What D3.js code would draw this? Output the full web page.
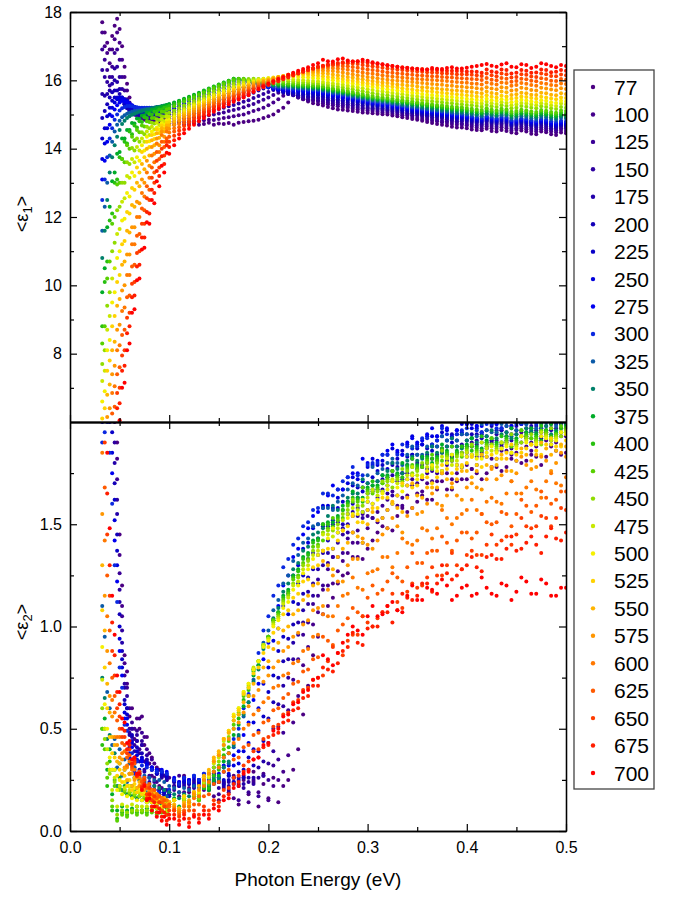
<!DOCTYPE html>
<html><head><meta charset="utf-8">
<script src="https://cdn.jsdelivr.net/npm/d3@7"></script>
<style>body{margin:0;background:#fff}svg text{font-family:"Liberation Sans",Arial,sans-serif}</style>
</head><body><svg id="chart" width="685" height="897"></svg>
<script>
const temperatures = [77,100,125,150,175,200,225,250,275,300,325,350,375,400,425,450,475,500,525,550,575,600,625,650,675,700];
const seriesColors = ['#4b0082','#45008c','#3a0096','#2e00a0','#2200aa','#1400b8','#0800c8','#0000dc','#0000f0','#0a28e0','#0a5aa8','#00806a','#00ac28','#28c010','#58d000','#90dc00','#c8e800','#f5f000','#ffd200','#ffb400','#ff9600','#ff7800','#ff5a00','#ff3c00','#ff1e00','#ff0000'];
const energy = [0.0325,0.035,0.0375,0.04,0.0425,0.045,0.0475,0.05,0.0525,0.055,0.0575,0.06,0.0625,0.065,0.0675,0.07,0.0725,0.075,0.0775,0.08,0.0825,0.085,0.0875,0.09,0.0925,0.095,0.0975,0.1,
0.105,0.11,0.115,0.12,0.125,0.13,0.135,0.14,0.145,0.15,0.155,0.16,0.165,0.17,0.175,0.18,0.185,0.19,0.195,0.2,0.205,0.21,0.215,0.22,0.225,0.23,0.235,0.24,0.245,0.25,
0.255,0.26,0.265,0.27,0.275,0.28,0.285,0.29,0.295,0.3,0.305,0.31,0.315,0.32,0.325,0.33,0.335,0.34,0.345,0.35,0.355,0.36,0.365,0.37,0.375,
0.38,0.385,0.39,0.395,0.4,0.405,0.41,0.415,0.42,0.425,0.43,0.435,0.44,0.445,0.45,0.455,0.46,0.465,0.47,0.475,0.48,0.485,0.49,0.495,0.5];
const xTicks = [0,0.1,0.2,0.3,0.4,0.5];
const xMinorTicks = [0.05,0.15,0.25,0.35,0.45];
const eps1Ticks = [8,10,12,14,16,18];
const eps1MinorTicks = [7,9,11,13,15,17];
const eps2Ticks = [0,0.5,1.0,1.5];
const eps2MinorTicks = [0.25,0.75,1.25,1.75];

// <eps1> readings per temperature
const e1_77 = [17.7,17.4,17.1,16.9,17.3,17.6,17.8,17.5,17.0,16.4,15.9,15.5,15.25,15.1,15.0,14.95,14.9,14.85,14.82,14.8,14.78,14.76,14.8,14.77,14.74,14.72,14.76,14.74,
14.7,14.75,14.7,14.72,14.75,14.7,14.72,14.76,14.7,14.74,14.72,14.75,14.7,14.76,14.78,14.8,14.82,14.85,14.9,14.95,15.0,15.1,15.2,15.35,15.6,15.55,15.45,15.38,15.33,15.3,
15.26,15.22,15.18,15.15,15.14,15.12,15.1,15.08,15.06,15.05,15.04,15.02,15.01,15.0,14.97,14.95,14.92,14.9,14.87,14.85,14.82,14.78,14.75,14.72,14.7,
14.68,14.64,14.62,14.62,14.6,14.56,14.55,14.54,14.58,14.52,14.5,14.55,14.52,14.47,14.45,14.53,14.5,14.44,14.42,14.5,14.48,14.42,14.4,14.47,14.45];
const e1_100 = [17.4,17.0,16.8,16.5,16.9,17.2,17.4,17.1,16.6,16.1,15.7,15.35,15.15,15.05,15.0,14.95,14.92,14.9,14.87,14.85,14.83,14.82,14.84,14.8,14.79,14.8,14.81,14.8,
14.78,14.8,14.77,14.8,14.82,14.8,14.83,14.85,14.84,14.87,14.9,14.92,14.95,14.98,15.0,15.05,15.1,15.15,15.2,15.27,15.35,15.45,15.55,15.68,15.6,15.5,15.45,15.42,15.4,15.37,
15.33,15.3,15.27,15.24,15.22,15.2,15.17,15.15,15.13,15.12,15.1,15.08,15.06,15.05,15.02,15.0,14.98,14.96,14.93,14.9,14.87,14.85,14.82,14.8,14.77,
14.75,14.72,14.7,14.7,14.68,14.64,14.62,14.6,14.65,14.6,14.58,14.63,14.6,14.53,14.55,14.6,14.57,14.52,14.5,14.57,14.54,14.5,14.48,14.55,14.52];
const e1_125 = [16.9,16.6,16.3,16.1,16.4,16.8,16.9,16.6,16.1,15.7,15.45,15.2,15.08,15.0,14.97,14.95,14.93,14.92,14.9,14.9,14.88,14.9,14.87,14.88,14.86,14.88,14.87,14.88,
14.87,14.9,14.88,14.9,14.92,14.93,14.95,14.98,15.0,15.03,15.06,15.1,15.13,15.17,15.21,15.26,15.31,15.37,15.43,15.5,15.57,15.64,15.72,15.64,15.56,15.5,15.47,15.45,15.43,15.42,
15.38,15.35,15.32,15.3,15.27,15.25,15.22,15.2,15.18,15.17,15.15,15.13,15.11,15.1,15.07,15.05,15.02,15.0,14.98,14.96,14.93,14.9,14.87,14.85,14.82,
14.8,14.78,14.76,14.74,14.72,14.7,14.68,14.66,14.7,14.66,14.64,14.69,14.66,14.58,14.6,14.65,14.62,14.58,14.56,14.62,14.6,14.56,14.54,14.6,14.58];
const e1_150 = [16.3,16.1,15.95,15.85,16.1,16.35,16.4,16.1,15.75,15.45,15.25,15.1,15.04,15.0,14.98,14.97,14.96,14.95,14.95,14.94,14.93,14.95,14.93,14.94,14.92,14.95,14.94,14.95,
14.95,14.97,14.98,15.0,15.02,15.04,15.07,15.1,15.13,15.16,15.2,15.24,15.28,15.32,15.37,15.42,15.48,15.54,15.6,15.66,15.72,15.76,15.68,15.6,15.56,15.53,15.51,15.5,15.48,15.47,
15.43,15.4,15.37,15.35,15.32,15.3,15.27,15.25,15.22,15.2,15.18,15.17,15.15,15.13,15.1,15.08,15.06,15.04,15.02,15.0,14.97,14.95,14.92,14.9,14.88,
14.86,14.83,14.8,14.8,14.78,14.75,14.73,14.71,14.75,14.72,14.7,14.74,14.72,14.64,14.66,14.7,14.68,14.64,14.62,14.67,14.65,14.6,14.58,14.64,14.62];
const e1_175 = [15.6,15.55,15.6,15.7,15.9,16.0,15.95,15.75,15.5,15.3,15.18,15.1,15.05,15.02,15.0,15.0,14.99,14.98,14.98,14.98,14.97,14.99,15.0,14.98,14.97,14.99,15.0,15.0,
15.0,15.03,15.05,15.08,15.1,15.13,15.16,15.2,15.24,15.28,15.32,15.37,15.42,15.47,15.52,15.58,15.64,15.7,15.76,15.8,15.82,15.72,15.64,15.6,15.58,15.56,15.55,15.53,15.52,15.5,
15.48,15.45,15.42,15.4,15.37,15.35,15.32,15.3,15.27,15.25,15.22,15.2,15.18,15.16,15.14,15.12,15.1,15.07,15.05,15.03,15.0,14.98,14.96,14.94,14.92,
14.9,14.87,14.85,14.84,14.82,14.79,14.77,14.75,14.8,14.76,14.74,14.78,14.76,14.68,14.7,14.74,14.72,14.68,14.66,14.72,14.7,14.64,14.62,14.68,14.66];
const e1_200 = [14.9,15.1,15.3,15.5,15.65,15.7,15.7,15.6,15.45,15.3,15.2,15.12,15.08,15.05,15.04,15.03,15.02,15.02,15.02,15.02,15.01,15.0,15.02,15.04,15.02,15.0,15.03,15.05,
15.06,15.1,15.12,15.15,15.18,15.22,15.26,15.3,15.35,15.4,15.45,15.5,15.55,15.6,15.66,15.72,15.77,15.82,15.86,15.88,15.78,15.7,15.66,15.63,15.62,15.6,15.59,15.58,15.57,15.56,
15.53,15.5,15.47,15.45,15.42,15.4,15.37,15.35,15.32,15.29,15.26,15.24,15.22,15.2,15.17,15.15,15.12,15.1,15.08,15.06,15.03,15.01,14.99,14.97,14.95,
14.93,14.9,14.88,14.87,14.85,14.82,14.8,14.78,14.83,14.79,14.77,14.81,14.79,14.71,14.73,14.77,14.75,14.71,14.69,14.75,14.73,14.67,14.65,14.7,14.68];
const e1_225 = [14.3,14.6,14.95,15.2,15.4,15.5,15.5,15.45,15.4,15.33,15.27,15.2,15.15,15.12,15.1,15.08,15.07,15.06,15.05,15.05,15.05,15.05,15.06,15.08,15.07,15.05,15.08,15.1,
15.12,15.15,15.18,15.22,15.26,15.3,15.35,15.4,15.45,15.5,15.56,15.62,15.68,15.74,15.8,15.85,15.9,15.93,15.9,15.8,15.74,15.7,15.68,15.66,15.65,15.64,15.63,15.62,15.61,15.6,
15.58,15.55,15.52,15.5,15.47,15.44,15.41,15.38,15.35,15.32,15.3,15.27,15.25,15.23,15.2,15.18,15.15,15.13,15.11,15.09,15.06,15.04,15.02,15.0,14.98,
14.96,14.93,14.91,14.9,14.88,14.85,14.83,14.81,14.86,14.82,14.8,14.84,14.82,14.74,14.76,14.8,14.78,14.74,14.72,14.78,14.76,14.7,14.68,14.72,14.7];
const e1_250 = [13.7,14.15,14.6,15.0,15.2,15.35,15.45,15.5,15.5,15.45,15.4,15.33,15.27,15.22,15.19,15.16,15.14,15.12,15.11,15.1,15.1,15.1,15.11,15.12,15.11,15.1,15.12,15.15,
15.18,15.22,15.26,15.3,15.35,15.4,15.45,15.5,15.56,15.62,15.68,15.74,15.8,15.86,15.9,15.94,15.96,15.9,15.84,15.8,15.76,15.73,15.71,15.7,15.69,15.68,15.67,15.66,15.65,15.64,
15.61,15.58,15.55,15.53,15.5,15.47,15.44,15.41,15.38,15.35,15.32,15.3,15.28,15.26,15.23,15.21,15.18,15.16,15.14,15.12,15.09,15.07,15.05,15.03,15.01,
14.99,14.96,14.94,14.93,14.91,14.88,14.86,14.84,14.89,14.85,14.83,14.87,14.85,14.77,14.79,14.83,14.81,14.77,14.75,14.81,14.79,14.73,14.71,14.75,14.73];
const e1_275 = [13.1,13.65,14.2,14.7,14.95,15.15,15.27,15.35,15.4,15.38,15.35,15.3,15.26,15.23,15.2,15.18,15.16,15.15,15.15,15.15,15.14,15.14,15.15,15.17,15.16,15.15,15.17,15.2,
15.24,15.28,15.33,15.38,15.43,15.48,15.53,15.59,15.65,15.71,15.77,15.83,15.88,15.93,15.96,15.98,15.92,15.86,15.82,15.79,15.77,15.75,15.74,15.73,15.72,15.71,15.7,15.69,15.68,15.67,
15.64,15.61,15.58,15.56,15.53,15.5,15.47,15.44,15.41,15.38,15.35,15.33,15.31,15.29,15.26,15.24,15.21,15.19,15.17,15.15,15.12,15.1,15.08,15.06,15.04,
15.02,14.99,14.97,14.96,14.94,14.91,14.89,14.87,14.92,14.88,14.86,14.9,14.88,14.8,14.82,14.86,14.84,14.8,14.78,14.84,14.82,14.76,14.74,14.78,14.76];
const e1_300 = [12.5,13.1,13.75,14.3,14.6,14.85,15.0,15.12,15.18,15.22,15.25,15.25,15.24,15.22,15.21,15.2,15.2,15.2,15.2,15.2,15.2,15.2,15.21,15.22,15.22,15.22,15.23,15.25,
15.3,15.35,15.4,15.45,15.5,15.55,15.61,15.67,15.73,15.79,15.85,15.9,15.95,15.99,16.0,15.95,15.9,15.86,15.83,15.81,15.79,15.78,15.77,15.76,15.75,15.74,15.73,15.72,15.71,15.7,
15.67,15.64,15.61,15.59,15.56,15.53,15.5,15.47,15.44,15.41,15.38,15.36,15.34,15.32,15.29,15.27,15.24,15.22,15.2,15.18,15.15,15.13,15.11,15.09,15.07,
15.05,15.02,15.0,14.99,14.97,14.94,14.92,14.9,14.95,14.91,14.89,14.93,14.91,14.83,14.85,14.89,14.87,14.83,14.81,14.87,14.85,14.8,14.78,14.82,14.8];
const e1_325 = [11.6,12.3,13.0,13.8,14.2,14.5,14.7,14.82,14.92,14.98,15.02,15.05,15.08,15.1,15.11,15.12,15.13,15.15,15.16,15.17,15.18,15.2,15.21,15.22,15.23,15.24,15.26,15.28,
15.32,15.37,15.42,15.47,15.52,15.58,15.64,15.7,15.76,15.82,15.88,15.93,15.98,16.02,16.0,15.96,15.92,15.89,15.87,15.85,15.83,15.81,15.8,15.79,15.78,15.77,15.76,15.75,15.74,15.73,
15.7,15.67,15.64,15.62,15.59,15.56,15.53,15.5,15.47,15.44,15.41,15.39,15.37,15.35,15.32,15.3,15.27,15.25,15.23,15.21,15.18,15.16,15.14,15.12,15.1,
15.08,15.06,15.04,15.03,15.01,14.99,14.97,14.95,15.0,14.96,14.94,14.98,14.96,14.88,14.9,14.95,14.93,14.89,14.87,14.93,14.91,14.87,14.85,14.9,14.88];
const e1_350 = [10.8,11.6,12.5,13.3,13.75,14.1,14.35,14.55,14.72,14.82,14.9,14.95,14.99,15.02,15.05,15.08,15.1,15.12,15.14,15.15,15.18,15.2,15.22,15.23,15.25,15.26,15.28,15.3,
15.34,15.39,15.44,15.5,15.55,15.61,15.67,15.73,15.79,15.85,15.91,15.96,16.02,16.04,16.01,15.97,15.94,15.92,15.9,15.88,15.86,15.84,15.83,15.82,15.81,15.8,15.79,15.78,15.77,15.76,
15.73,15.7,15.67,15.65,15.62,15.59,15.56,15.53,15.5,15.47,15.44,15.42,15.4,15.38,15.35,15.33,15.31,15.29,15.27,15.25,15.22,15.2,15.18,15.16,15.14,
15.12,15.1,15.08,15.07,15.05,15.03,15.01,14.99,15.04,15.0,14.98,15.02,15.0,14.93,14.95,14.99,14.97,14.94,14.92,14.98,14.96,14.92,14.9,14.95,14.93];
const e1_375 = [9.8,10.5,11.7,12.3,13.05,13.3,13.85,13.9,14.3,14.3,14.55,14.55,14.75,14.74,14.88,14.87,14.97,14.98,15.06,15.06,15.13,15.14,15.18,15.2,15.23,15.25,15.28,15.3,
15.35,15.4,15.46,15.52,15.58,15.64,15.7,15.76,15.82,15.88,15.94,15.99,16.05,16.04,16.02,15.99,15.96,15.94,15.92,15.9,15.88,15.87,15.86,15.85,15.84,15.83,15.82,15.81,15.8,15.79,
15.76,15.73,15.7,15.68,15.65,15.62,15.59,15.56,15.53,15.5,15.47,15.45,15.43,15.41,15.39,15.37,15.35,15.33,15.31,15.29,15.27,15.25,15.23,15.21,15.19,
15.17,15.15,15.13,15.12,15.1,15.08,15.06,15.04,15.09,15.05,15.03,15.07,15.05,14.98,15.0,15.04,15.02,14.99,14.97,15.03,15.01,14.97,14.95,15.0,14.98];
const e1_400 = [8.8,10.1,10.7,11.9,12.1,13.0,13.1,13.75,13.7,14.2,14.15,14.5,14.42,14.68,14.62,14.8,14.78,14.92,14.9,15.01,15.0,15.08,15.09,15.15,15.15,15.2,15.21,15.25,
15.31,15.37,15.43,15.49,15.55,15.61,15.68,15.75,15.81,15.87,15.93,15.99,16.05,16.05,16.03,16.0,15.98,15.96,15.94,15.92,15.9,15.89,15.88,15.87,15.86,15.85,15.84,15.83,15.82,15.81,
15.79,15.76,15.73,15.71,15.68,15.65,15.62,15.59,15.56,15.53,15.5,15.48,15.46,15.44,15.42,15.4,15.38,15.36,15.34,15.32,15.3,15.28,15.26,15.24,15.22,
15.2,15.18,15.17,15.16,15.14,15.12,15.1,15.08,15.13,15.09,15.07,15.12,15.1,15.03,15.05,15.09,15.07,15.04,15.02,15.08,15.06,15.02,15.0,15.05,15.03];
const e1_425 = [8.3,8.8,10.2,10.7,11.8,12.0,12.95,13.0,13.7,13.6,14.1,14.0,14.35,14.25,14.55,14.48,14.68,14.65,14.8,14.78,14.9,14.9,15.0,14.99,15.08,15.08,15.15,15.17,
15.24,15.3,15.37,15.43,15.5,15.57,15.64,15.71,15.77,15.83,15.89,15.95,16.0,16.04,16.05,16.03,16.01,15.99,15.97,15.96,15.94,15.93,15.92,15.91,15.9,15.89,15.88,15.87,15.86,15.85,
15.83,15.8,15.77,15.75,15.72,15.69,15.66,15.63,15.6,15.57,15.54,15.52,15.5,15.48,15.46,15.44,15.42,15.4,15.38,15.36,15.34,15.32,15.3,15.28,15.27,
15.25,15.23,15.22,15.21,15.19,15.17,15.15,15.13,15.18,15.14,15.12,15.17,15.15,15.08,15.1,15.14,15.12,15.09,15.07,15.13,15.11,15.07,15.05,15.12,15.1];
const e1_450 = [7.7,8.1,9.4,9.8,11.0,11.25,12.2,12.3,13.0,13.0,13.6,13.55,14.02,13.95,14.3,14.2,14.48,14.42,14.64,14.6,14.76,14.74,14.86,14.84,14.95,14.94,15.03,15.05,
15.12,15.19,15.26,15.33,15.4,15.47,15.54,15.61,15.68,15.74,15.8,15.86,15.91,15.96,16.0,16.03,16.05,16.04,16.03,16.02,16.0,15.99,15.98,15.97,15.96,15.95,15.94,15.93,15.92,15.91,
15.89,15.86,15.84,15.81,15.79,15.76,15.74,15.71,15.68,15.65,15.62,15.6,15.58,15.56,15.54,15.52,15.5,15.48,15.46,15.44,15.42,15.4,15.39,15.37,15.36,
15.34,15.33,15.31,15.3,15.28,15.27,15.25,15.23,15.28,15.24,15.22,15.27,15.25,15.18,15.2,15.25,15.23,15.2,15.18,15.24,15.22,15.18,15.16,15.22,15.2];
const e1_475 = [7.2,7.5,8.7,9.1,10.2,10.5,11.5,11.65,12.45,12.55,13.2,13.15,13.7,13.6,14.05,13.95,14.3,14.2,14.5,14.4,14.64,14.56,14.76,14.69,14.86,14.8,14.94,14.94,
15.02,15.1,15.17,15.25,15.32,15.39,15.46,15.53,15.6,15.66,15.72,15.78,15.83,15.88,15.93,15.97,16.0,16.03,16.05,16.06,16.06,16.05,16.04,16.03,16.02,16.01,16.0,15.99,15.98,15.97,
15.95,15.93,15.91,15.89,15.87,15.84,15.82,15.79,15.77,15.74,15.72,15.69,15.67,15.65,15.63,15.61,15.59,15.57,15.55,15.53,15.51,15.49,15.48,15.46,15.45,
15.43,15.42,15.4,15.39,15.37,15.36,15.34,15.32,15.37,15.33,15.31,15.36,15.34,15.27,15.29,15.34,15.32,15.29,15.27,15.33,15.31,15.27,15.25,15.32,15.3];
const e1_500 = [6.6,6.9,8.1,8.4,9.5,9.8,10.8,11.0,11.9,11.95,12.7,12.6,13.3,13.2,13.75,13.65,14.1,13.95,14.35,14.22,14.5,14.42,14.62,14.57,14.75,14.7,14.84,14.85,
14.94,15.02,15.1,15.18,15.26,15.33,15.4,15.47,15.54,15.6,15.66,15.72,15.77,15.82,15.87,15.92,15.96,16.0,16.03,16.06,16.08,16.1,16.11,16.11,16.1,16.1,16.09,16.08,16.07,16.06,
16.04,16.02,16.0,15.98,15.96,15.93,15.91,15.88,15.86,15.83,15.81,15.78,15.76,15.74,15.72,15.7,15.68,15.66,15.64,15.62,15.6,15.58,15.57,15.55,15.54,
15.52,15.51,15.49,15.48,15.46,15.45,15.43,15.41,15.46,15.42,15.4,15.45,15.43,15.36,15.38,15.43,15.41,15.38,15.36,15.42,15.4,15.36,15.34,15.4,15.38];
const e1_525 = [6.1,6.4,7.5,7.8,8.8,9.1,10.1,10.3,11.2,11.3,12.15,12.1,12.85,12.8,13.45,13.3,13.9,13.75,14.2,14.05,14.4,14.28,14.56,14.46,14.68,14.6,14.76,14.77,
14.87,14.96,15.04,15.12,15.2,15.28,15.35,15.42,15.49,15.55,15.61,15.67,15.73,15.78,15.83,15.88,15.93,15.97,16.01,16.04,16.07,16.1,16.12,16.14,16.15,16.16,16.16,16.16,16.15,16.14,
16.12,16.1,16.08,16.06,16.04,16.01,15.99,15.96,15.94,15.91,15.89,15.87,15.85,15.83,15.81,15.79,15.77,15.75,15.73,15.71,15.7,15.68,15.67,15.65,15.64,
15.62,15.61,15.59,15.58,15.56,15.55,15.53,15.51,15.56,15.52,15.5,15.55,15.53,15.46,15.48,15.53,15.51,15.48,15.46,15.52,15.5,15.47,15.45,15.5,15.48];
const e1_550 = [5.5,5.7,6.8,7.1,8.1,8.35,9.4,9.6,10.6,10.7,11.6,11.55,12.35,12.3,13.0,12.9,13.55,13.4,14.0,13.8,14.25,14.1,14.45,14.32,14.6,14.5,14.68,14.68,
14.79,14.89,14.98,15.06,15.14,15.22,15.29,15.36,15.43,15.5,15.56,15.62,15.68,15.74,15.79,15.84,15.89,15.94,15.98,16.02,16.06,16.1,16.13,16.16,16.18,16.2,16.21,16.22,16.22,16.22,
16.21,16.19,16.17,16.15,16.13,16.1,16.08,16.05,16.03,16.0,15.98,15.96,15.94,15.92,15.9,15.88,15.87,15.85,15.84,15.82,15.8,15.79,15.77,15.76,15.74,
15.73,15.71,15.7,15.69,15.67,15.66,15.64,15.62,15.67,15.63,15.61,15.67,15.65,15.57,15.59,15.64,15.62,15.58,15.57,15.64,15.62,15.58,15.56,15.62,15.6];
const e1_575 = [4.9,5.1,6.15,6.4,7.4,7.65,8.7,8.85,9.85,10.0,10.9,10.9,11.7,11.7,12.45,12.4,13.1,13.0,13.65,13.5,14.05,13.85,14.3,14.1,14.5,14.35,14.6,14.58,
14.7,14.81,14.91,15.0,15.08,15.16,15.24,15.31,15.38,15.45,15.51,15.57,15.63,15.69,15.75,15.8,15.85,15.9,15.95,15.99,16.04,16.08,16.12,16.16,16.19,16.22,16.25,16.27,16.28,16.29,
16.29,16.28,16.27,16.25,16.23,16.2,16.18,16.15,16.13,16.1,16.08,16.06,16.04,16.02,16.0,15.99,15.98,15.96,15.95,15.93,15.92,15.9,15.89,15.88,15.87,
15.85,15.84,15.82,15.81,15.8,15.79,15.77,15.75,15.8,15.76,15.74,15.8,15.78,15.7,15.72,15.78,15.76,15.72,15.7,15.78,15.76,15.73,15.71,15.77,15.75];
const e1_600 = [4.5,4.65,5.65,5.8,6.85,7.05,8.1,8.25,9.25,9.35,10.3,10.3,11.2,11.2,12.0,12.0,12.7,12.6,13.3,13.15,13.8,13.6,14.15,13.9,14.4,14.2,14.5,14.47,
14.6,14.72,14.83,14.92,15.01,15.09,15.17,15.25,15.32,15.39,15.46,15.52,15.58,15.64,15.7,15.76,15.81,15.86,15.91,15.96,16.01,16.06,16.1,16.15,16.19,16.23,16.27,16.3,16.33,16.35,
16.36,16.36,16.36,16.35,16.33,16.31,16.28,16.26,16.23,16.21,16.19,16.17,16.15,16.13,16.11,16.1,16.08,16.07,16.05,16.04,16.03,16.02,16.01,16.0,15.99,
15.98,15.96,15.95,15.94,15.93,15.91,15.9,15.88,15.94,15.9,15.88,15.94,15.92,15.84,15.86,15.92,15.9,15.86,15.84,15.92,15.9,15.86,15.85,15.91,15.89];
const e1_625 = [4.1,4.2,5.2,5.3,6.25,6.45,7.4,7.6,8.55,8.7,9.65,9.7,10.55,10.6,11.45,11.5,12.25,12.2,12.9,12.8,13.45,13.3,13.9,13.7,14.2,14.05,14.3,14.35,
14.5,14.63,14.75,14.85,14.94,15.03,15.11,15.19,15.26,15.33,15.4,15.47,15.53,15.59,15.65,15.71,15.77,15.82,15.87,15.93,15.98,16.03,16.08,16.13,16.18,16.22,16.27,16.31,16.35,16.38,
16.4,16.42,16.44,16.43,16.42,16.41,16.39,16.37,16.34,16.32,16.3,16.28,16.26,16.24,16.22,16.21,16.19,16.18,16.16,16.15,16.14,16.13,16.12,16.11,16.1,
16.09,16.08,16.07,16.06,16.05,16.04,16.03,16.01,16.07,16.02,16.0,16.07,16.05,15.96,15.98,16.05,16.03,15.99,15.97,16.06,16.04,15.99,15.98,16.04,16.02];
const e1_650 = [3.7,3.8,4.7,4.8,5.75,5.9,6.85,7.0,7.95,8.1,9.05,9.2,10.05,10.1,10.95,11.0,11.8,11.8,12.55,12.5,13.15,13.0,13.65,13.45,14.0,13.8,14.2,14.2,
14.38,14.53,14.66,14.77,14.87,14.96,15.05,15.13,15.21,15.28,15.35,15.42,15.48,15.55,15.61,15.67,15.73,15.79,15.85,15.9,15.96,16.01,16.06,16.11,16.16,16.21,16.26,16.3,16.35,16.39,
16.42,16.44,16.46,16.48,16.5,16.5,16.49,16.48,16.45,16.43,16.41,16.39,16.37,16.35,16.33,16.32,16.3,16.29,16.27,16.26,16.25,16.24,16.23,16.22,16.21,
16.2,16.19,16.18,16.18,16.17,16.16,16.15,16.13,16.2,16.15,16.12,16.2,16.18,16.08,16.1,16.18,16.16,16.11,16.1,16.2,16.18,16.13,16.12,16.17,16.15];
const e1_675 = [3.3,3.4,4.3,4.4,5.3,5.45,6.4,6.55,7.5,7.65,8.6,8.8,9.65,9.7,10.55,10.6,11.4,11.4,12.15,12.1,12.8,12.7,13.35,13.2,13.78,13.55,14.1,14.05,
14.25,14.42,14.56,14.68,14.79,14.89,14.98,15.07,15.15,15.22,15.29,15.36,15.43,15.5,15.56,15.62,15.68,15.74,15.8,15.86,15.92,15.97,16.03,16.08,16.14,16.2,16.25,16.3,16.35,16.4,
16.43,16.46,16.49,16.51,16.53,16.54,16.55,16.55,16.54,16.52,16.5,16.48,16.46,16.44,16.42,16.4,16.38,16.37,16.35,16.34,16.33,16.32,16.31,16.3,16.29,
16.28,16.28,16.27,16.27,16.26,16.26,16.25,16.22,16.32,16.26,16.24,16.32,16.3,16.2,16.22,16.3,16.28,16.22,16.23,16.32,16.3,16.24,16.25,16.3,16.28];
const e1_700 = [2.9,3.0,3.9,4.0,4.9,5.0,5.95,6.05,7.0,7.15,8.1,8.3,9.2,9.3,10.15,10.2,11.05,11.1,11.85,11.8,12.5,12.4,13.05,12.9,13.5,13.3,13.88,13.85,
14.1,14.3,14.45,14.58,14.7,14.8,14.9,14.99,15.08,15.16,15.23,15.3,15.37,15.44,15.5,15.56,15.66,15.75,15.83,15.9,15.97,16.04,16.1,16.16,16.22,16.28,16.33,16.38,16.45,16.5,
16.6,16.56,16.55,16.62,16.64,16.58,16.55,16.56,16.6,16.57,16.53,16.5,16.47,16.44,16.42,16.4,16.37,16.36,16.35,16.33,16.31,16.32,16.36,16.34,16.33,
16.36,16.38,16.35,16.35,16.37,16.4,16.42,16.45,16.48,16.43,16.4,16.46,16.5,16.4,16.38,16.47,16.45,16.36,16.4,16.5,16.47,16.42,16.38,16.45,16.42];

// <eps2> readings per temperature
const e2_77 = [2.6,2.7,2.8,2.9,2.7,2.3,1.9,1.45,1.2,0.86,0.78,0.56,0.6,0.45,0.55,0.5,0.56,0.42,0.46,0.33,0.36,0.26,0.31,0.22,0.29,0.2,0.27,0.19,
0.22,0.17,0.27,0.19,0.24,0.16,0.26,0.2,0.28,0.15,0.24,0.19,0.27,0.13,0.25,0.18,0.29,0.12,0.23,0.16,0.26,0.14,0.22,0.25,0.3,0.4,0.57,0.71,0.86,0.95,
1.06,1.1,1.14,1.21,1.25,1.26,1.34,1.34,1.33,1.38,1.42,1.46,1.49,1.48,1.47,1.54,1.58,1.56,1.58,1.61,1.64,1.62,1.62,1.67,1.71,
1.67,1.67,1.71,1.72,1.72,1.77,1.75,1.72,1.75,1.78,1.78,1.76,1.78,1.84,1.81,1.8,1.81,1.84,1.83,1.79,1.83,1.88,1.86,1.84,1.85];
const e2_100 = [2.5,2.6,2.7,2.7,2.5,2.1,1.82,1.35,1.1,0.82,0.72,0.6,0.5,0.5,0.44,0.55,0.42,0.46,0.33,0.38,0.27,0.33,0.24,0.3,0.21,0.27,0.2,0.26,
0.25,0.19,0.26,0.21,0.18,0.25,0.2,0.28,0.17,0.24,0.21,0.27,0.16,0.23,0.26,0.14,0.24,0.19,0.28,0.15,0.22,0.25,0.29,0.37,0.53,0.66,0.81,0.9,1.01,1.07,
1.18,1.2,1.21,1.27,1.32,1.36,1.41,1.41,1.41,1.48,1.53,1.51,1.53,1.57,1.6,1.59,1.59,1.64,1.69,1.65,1.66,1.7,1.71,1.71,1.76,
1.75,1.72,1.75,1.78,1.79,1.77,1.79,1.85,1.83,1.82,1.82,1.86,1.86,1.82,1.85,1.9,1.88,1.86,1.88,1.93,1.91,1.89,1.9,1.93,1.93];
const e2_125 = [2.5,2.5,2.6,2.6,2.4,2.0,1.72,1.26,1.05,0.76,0.7,0.5,0.53,0.42,0.49,0.4,0.48,0.34,0.4,0.27,0.35,0.24,0.3,0.2,0.28,0.19,0.25,0.18,
0.2,0.27,0.19,0.25,0.22,0.17,0.26,0.21,0.28,0.18,0.24,0.2,0.26,0.15,0.27,0.19,0.25,0.17,0.27,0.25,0.32,0.35,0.48,0.59,0.74,0.84,0.96,1.02,1.11,1.15,
1.2,1.28,1.34,1.34,1.36,1.43,1.46,1.47,1.55,1.54,1.53,1.56,1.59,1.62,1.66,1.64,1.63,1.69,1.72,1.7,1.72,1.75,1.78,1.75,1.75,
1.79,1.83,1.79,1.78,1.83,1.84,1.83,1.83,1.87,1.9,1.86,1.88,1.9,1.87,1.89,1.95,1.92,1.9,1.91,1.95,1.94,1.91,1.93,1.97,1.96];
const e2_150 = [2.4,2.45,2.5,2.5,2.3,1.9,1.62,1.18,0.98,0.72,0.66,0.48,0.5,0.39,0.47,0.38,0.44,0.3,0.37,0.26,0.31,0.22,0.29,0.2,0.26,0.18,0.25,0.19,
0.22,0.24,0.22,0.23,0.21,0.24,0.22,0.23,0.24,0.21,0.23,0.22,0.24,0.22,0.21,0.24,0.23,0.26,0.27,0.33,0.39,0.51,0.61,0.75,0.84,0.96,1.02,1.11,1.15,1.23,
1.3,1.31,1.34,1.41,1.45,1.46,1.54,1.54,1.53,1.57,1.6,1.63,1.66,1.65,1.64,1.71,1.75,1.72,1.74,1.77,1.79,1.77,1.76,1.81,1.85,
1.81,1.81,1.85,1.85,1.85,1.9,1.89,1.86,1.88,1.91,1.91,1.89,1.91,1.97,1.94,1.93,1.93,1.97,1.96,1.92,1.95,1.99,1.97,1.95,1.96];
const e2_175 = [2.4,2.45,2.5,2.4,2.15,1.8,1.55,1.12,0.92,0.7,0.6,0.47,0.46,0.36,0.44,0.34,0.42,0.29,0.35,0.24,0.31,0.2,0.28,0.18,0.27,0.17,0.26,0.18,
0.24,0.22,0.23,0.24,0.22,0.23,0.24,0.22,0.23,0.24,0.22,0.24,0.23,0.25,0.23,0.26,0.26,0.31,0.34,0.43,0.5,0.62,0.71,0.84,0.92,1.02,1.08,1.17,1.21,1.28,
1.36,1.36,1.38,1.46,1.48,1.5,1.56,1.58,1.56,1.61,1.67,1.67,1.67,1.69,1.74,1.74,1.72,1.75,1.82,1.8,1.78,1.8,1.82,1.84,1.87,
1.84,1.83,1.88,1.89,1.88,1.88,1.91,1.95,1.9,1.91,1.94,1.96,1.93,1.91,1.96,1.99,1.95,1.95,1.98,2.0,1.96,1.96,1.99,1.99,1.97];
const e2_200 = [2.3,2.35,2.4,2.3,2.05,1.7,1.45,1.06,0.88,0.64,0.6,0.42,0.47,0.33,0.41,0.3,0.38,0.26,0.34,0.22,0.3,0.19,0.28,0.17,0.27,0.18,0.26,0.17,
0.24,0.22,0.24,0.23,0.25,0.22,0.25,0.23,0.25,0.24,0.23,0.25,0.24,0.26,0.26,0.3,0.32,0.39,0.44,0.55,0.63,0.75,0.83,0.94,1.01,1.11,1.16,1.24,1.28,1.35,
1.37,1.42,1.5,1.51,1.5,1.55,1.6,1.63,1.68,1.65,1.66,1.71,1.72,1.73,1.79,1.78,1.75,1.79,1.84,1.84,1.83,1.84,1.89,1.88,1.86,
1.88,1.94,1.91,1.88,1.91,1.94,1.94,1.92,1.93,1.98,1.96,1.96,1.95,1.94,1.98,2.02,1.97,1.98,2.0,2.01,1.98,1.97,2.01,2.02,1.99];
const e2_225 = [2.2,2.25,2.3,2.2,1.95,1.62,1.37,1.0,0.84,0.62,0.57,0.41,0.44,0.31,0.39,0.28,0.36,0.25,0.33,0.21,0.3,0.2,0.28,0.18,0.28,0.19,0.27,0.18,
0.25,0.23,0.24,0.25,0.23,0.25,0.24,0.26,0.24,0.26,0.25,0.27,0.26,0.29,0.3,0.36,0.4,0.49,0.56,0.68,0.76,0.88,0.95,1.06,1.12,1.21,1.25,1.33,1.36,1.43,
1.49,1.49,1.52,1.58,1.61,1.61,1.69,1.68,1.66,1.7,1.73,1.76,1.79,1.77,1.76,1.82,1.86,1.83,1.84,1.87,1.89,1.87,1.86,1.91,1.95,
1.91,1.9,1.94,1.94,1.94,1.99,1.97,1.94,1.96,1.99,1.99,1.97,1.98,2.04,2.01,1.99,1.99,2.03,2.02,1.97,2.0,2.05,2.03,2.0,2.01];
const e2_250 = [2.1,2.15,2.2,2.1,1.85,1.52,1.3,0.94,0.8,0.58,0.55,0.38,0.43,0.3,0.37,0.27,0.35,0.24,0.33,0.21,0.31,0.2,0.3,0.19,0.29,0.2,0.28,0.19,
0.25,0.23,0.25,0.24,0.26,0.24,0.26,0.25,0.27,0.26,0.29,0.28,0.32,0.33,0.39,0.43,0.53,0.6,0.72,0.8,0.93,0.99,1.1,1.16,1.25,1.3,1.38,1.41,1.48,1.5,
1.59,1.59,1.58,1.63,1.67,1.7,1.73,1.72,1.71,1.78,1.82,1.79,1.81,1.84,1.87,1.85,1.84,1.89,1.93,1.89,1.89,1.93,1.93,1.93,1.98,
1.96,1.93,1.96,1.99,1.99,1.97,1.98,2.04,2.01,2.0,2.0,2.03,2.02,1.98,2.01,2.05,2.03,2.0,2.02,2.06,2.04,2.01,2.02,2.05,2.05];
const e2_275 = [2.0,2.05,2.1,2.0,1.75,1.42,1.22,0.88,0.76,0.55,0.52,0.36,0.41,0.29,0.35,0.26,0.34,0.23,0.32,0.21,0.31,0.2,0.3,0.19,0.3,0.2,0.29,0.2,
0.26,0.24,0.26,0.25,0.27,0.25,0.28,0.26,0.29,0.28,0.32,0.32,0.37,0.39,0.47,0.53,0.64,0.72,0.84,0.92,1.03,1.1,1.2,1.25,1.34,1.38,1.45,1.48,1.54,1.56,
1.58,1.64,1.69,1.67,1.67,1.73,1.75,1.75,1.82,1.8,1.79,1.81,1.84,1.86,1.89,1.86,1.84,1.9,1.92,1.9,1.91,1.94,1.97,1.93,1.93,
1.97,2.01,1.96,1.95,1.99,2.0,1.98,1.98,2.01,2.03,1.99,2.0,2.02,1.98,2.0,2.06,2.03,2.01,2.01,2.04,2.03,2.0,2.02,2.05,2.04];
const e2_300 = [1.9,1.95,2.0,1.85,1.6,1.3,1.12,0.8,0.7,0.52,0.49,0.35,0.38,0.28,0.34,0.25,0.32,0.23,0.31,0.21,0.3,0.2,0.29,0.19,0.29,0.2,0.28,0.2,
0.25,0.23,0.26,0.24,0.27,0.25,0.28,0.27,0.31,0.31,0.36,0.38,0.45,0.5,0.6,0.67,0.79,0.87,0.98,1.05,1.15,1.2,1.29,1.33,1.4,1.43,1.49,1.51,1.57,1.58,
1.65,1.65,1.64,1.67,1.71,1.73,1.78,1.74,1.74,1.79,1.8,1.8,1.84,1.84,1.8,1.84,1.89,1.88,1.87,1.88,1.92,1.92,1.89,1.91,1.97,
1.94,1.92,1.94,1.96,1.97,2.0,1.96,1.95,1.99,1.99,1.97,1.97,2.0,2.04,1.99,1.99,2.01,2.02,1.99,1.97,2.02,2.04,2.0,1.99,2.02];
const e2_325 = [1.1,0.95,0.68,0.6,0.42,0.45,0.31,0.4,0.27,0.35,0.24,0.33,0.22,0.31,0.21,0.29,0.2,0.27,0.19,0.26,0.17,0.25,0.17,0.25,0.16,0.24,0.17,0.22,
0.21,0.19,0.21,0.2,0.22,0.21,0.23,0.22,0.26,0.26,0.31,0.33,0.41,0.46,0.56,0.63,0.74,0.81,0.92,0.98,1.08,1.13,1.21,1.25,1.32,1.35,1.41,1.43,1.49,1.5,
1.58,1.58,1.57,1.61,1.64,1.67,1.7,1.69,1.68,1.74,1.78,1.75,1.77,1.8,1.82,1.8,1.79,1.84,1.88,1.84,1.84,1.88,1.88,1.88,1.93,
1.91,1.88,1.91,1.94,1.94,1.92,1.93,1.99,1.96,1.95,1.95,1.99,1.98,1.93,1.96,2.01,1.99,1.96,1.97,2.02,2.0,1.97,1.98,2.0,2.0];
const e2_350 = [0.75,0.65,0.45,0.47,0.3,0.38,0.22,0.33,0.2,0.3,0.18,0.28,0.17,0.26,0.16,0.25,0.15,0.24,0.14,0.23,0.14,0.22,0.13,0.21,0.13,0.2,0.14,0.19,
0.18,0.16,0.18,0.17,0.19,0.18,0.21,0.2,0.24,0.25,0.31,0.34,0.42,0.47,0.57,0.63,0.73,0.79,0.89,0.95,1.04,1.09,1.17,1.21,1.28,1.31,1.37,1.39,1.45,1.46,
1.48,1.54,1.59,1.57,1.57,1.63,1.65,1.65,1.72,1.7,1.69,1.71,1.74,1.76,1.8,1.77,1.75,1.81,1.83,1.81,1.82,1.85,1.88,1.85,1.85,
1.88,1.92,1.88,1.87,1.91,1.92,1.9,1.9,1.93,1.96,1.92,1.94,1.95,1.92,1.94,2.0,1.97,1.95,1.95,1.99,1.98,1.94,1.96,2.0,1.99];
const e2_375 = [0.5,0.55,0.3,0.4,0.18,0.3,0.1,0.26,0.12,0.22,0.1,0.22,0.11,0.2,0.12,0.19,0.1,0.18,0.11,0.17,0.1,0.16,0.11,0.15,0.1,0.15,0.11,0.14,
0.16,0.12,0.17,0.14,0.18,0.16,0.21,0.2,0.25,0.27,0.34,0.38,0.47,0.52,0.61,0.66,0.76,0.81,0.9,0.95,1.03,1.07,1.15,1.18,1.25,1.28,1.34,1.36,1.42,1.43,
1.5,1.51,1.51,1.54,1.59,1.61,1.66,1.63,1.63,1.68,1.69,1.69,1.74,1.74,1.71,1.75,1.8,1.79,1.78,1.79,1.83,1.83,1.8,1.83,1.89,
1.86,1.84,1.86,1.88,1.89,1.92,1.88,1.87,1.91,1.92,1.9,1.9,1.93,1.97,1.92,1.93,1.95,1.97,1.94,1.91,1.96,1.99,1.95,1.95,1.98];
const e2_400 = [0.42,0.5,0.22,0.34,0.1,0.25,0.06,0.22,0.09,0.2,0.08,0.19,0.1,0.18,0.09,0.17,0.1,0.16,0.09,0.15,0.1,0.15,0.09,0.14,0.1,0.14,0.09,0.13,
0.15,0.11,0.16,0.13,0.17,0.15,0.21,0.21,0.27,0.3,0.37,0.41,0.5,0.55,0.64,0.69,0.78,0.83,0.91,0.95,1.03,1.07,1.14,1.17,1.24,1.27,1.33,1.35,1.41,1.42,
1.5,1.5,1.49,1.53,1.57,1.6,1.63,1.62,1.61,1.67,1.71,1.68,1.7,1.73,1.76,1.74,1.73,1.78,1.82,1.78,1.78,1.82,1.82,1.82,1.87,
1.85,1.82,1.85,1.88,1.88,1.86,1.87,1.93,1.9,1.89,1.89,1.93,1.92,1.88,1.91,1.96,1.94,1.92,1.93,1.98,1.96,1.93,1.94,1.97,1.97];
const e2_425 = [0.5,0.4,0.26,0.3,0.12,0.22,0.05,0.21,0.08,0.19,0.07,0.18,0.09,0.17,0.08,0.17,0.09,0.16,0.08,0.15,0.09,0.14,0.08,0.14,0.09,0.13,0.08,0.13,
0.15,0.1,0.15,0.12,0.17,0.15,0.22,0.23,0.29,0.32,0.4,0.44,0.52,0.57,0.66,0.7,0.79,0.83,0.91,0.95,1.03,1.06,1.13,1.16,1.23,1.25,1.31,1.33,1.39,1.4,
1.42,1.48,1.53,1.52,1.53,1.59,1.61,1.61,1.68,1.66,1.65,1.67,1.7,1.72,1.76,1.73,1.71,1.77,1.79,1.77,1.78,1.81,1.84,1.81,1.81,
1.84,1.88,1.84,1.83,1.87,1.88,1.86,1.86,1.89,1.92,1.88,1.9,1.91,1.88,1.9,1.96,1.93,1.92,1.92,1.96,1.95,1.92,1.94,1.98,1.97];
const e2_450 = [0.6,0.45,0.33,0.28,0.15,0.24,0.08,0.2,0.1,0.2,0.09,0.19,0.1,0.18,0.1,0.17,0.1,0.17,0.1,0.16,0.1,0.15,0.09,0.14,0.1,0.13,0.09,0.13,
0.15,0.09,0.15,0.12,0.17,0.16,0.23,0.24,0.31,0.34,0.42,0.46,0.54,0.58,0.67,0.71,0.79,0.83,0.91,0.94,1.02,1.05,1.12,1.15,1.21,1.24,1.3,1.32,1.37,1.39,
1.46,1.47,1.47,1.5,1.55,1.57,1.62,1.59,1.59,1.65,1.66,1.66,1.71,1.71,1.68,1.72,1.77,1.76,1.75,1.76,1.8,1.8,1.77,1.8,1.86,
1.83,1.81,1.83,1.85,1.86,1.89,1.85,1.84,1.88,1.89,1.87,1.87,1.9,1.94,1.89,1.9,1.92,1.94,1.91,1.89,1.94,1.97,1.93,1.93,1.96];
const e2_475 = [0.74,0.5,0.4,0.3,0.2,0.26,0.12,0.22,0.13,0.21,0.12,0.2,0.13,0.19,0.12,0.19,0.12,0.18,0.12,0.17,0.11,0.16,0.11,0.15,0.11,0.14,0.1,0.13,
0.15,0.1,0.16,0.12,0.18,0.18,0.24,0.26,0.33,0.36,0.44,0.48,0.56,0.6,0.68,0.72,0.8,0.83,0.91,0.94,1.01,1.04,1.11,1.14,1.2,1.22,1.28,1.3,1.35,1.37,
1.45,1.45,1.44,1.48,1.52,1.55,1.58,1.57,1.56,1.63,1.67,1.64,1.66,1.69,1.72,1.7,1.69,1.74,1.78,1.74,1.74,1.78,1.78,1.78,1.83,
1.82,1.79,1.81,1.84,1.85,1.83,1.84,1.9,1.87,1.86,1.86,1.9,1.89,1.85,1.88,1.93,1.91,1.89,1.9,1.95,1.93,1.91,1.92,1.95,1.95];
const e2_500 = [0.9,0.62,0.5,0.36,0.3,0.3,0.2,0.25,0.18,0.24,0.17,0.22,0.16,0.21,0.15,0.2,0.15,0.19,0.14,0.18,0.14,0.17,0.13,0.16,0.12,0.15,0.12,0.14,
0.15,0.11,0.17,0.13,0.19,0.19,0.26,0.27,0.34,0.37,0.45,0.49,0.57,0.6,0.68,0.72,0.79,0.83,0.9,0.93,1.0,1.03,1.09,1.12,1.18,1.2,1.26,1.28,1.33,1.35,
1.37,1.43,1.48,1.46,1.47,1.53,1.55,1.55,1.62,1.61,1.6,1.62,1.65,1.67,1.71,1.68,1.66,1.72,1.74,1.72,1.73,1.76,1.79,1.76,1.76,
1.8,1.84,1.79,1.78,1.83,1.84,1.82,1.82,1.85,1.88,1.85,1.87,1.88,1.85,1.87,1.93,1.9,1.89,1.89,1.93,1.92,1.89,1.91,1.95,1.94];
const e2_525 = [1.08,0.8,0.6,0.46,0.38,0.36,0.27,0.3,0.24,0.27,0.22,0.25,0.2,0.23,0.19,0.22,0.18,0.2,0.17,0.19,0.16,0.18,0.15,0.17,0.14,0.16,0.13,0.14,
0.15,0.11,0.17,0.13,0.19,0.2,0.26,0.29,0.35,0.38,0.45,0.49,0.56,0.59,0.67,0.7,0.77,0.8,0.87,0.9,0.97,0.99,1.06,1.08,1.14,1.16,1.22,1.23,1.29,1.3,
1.37,1.38,1.38,1.42,1.47,1.49,1.54,1.51,1.51,1.57,1.58,1.58,1.63,1.63,1.6,1.64,1.7,1.69,1.68,1.69,1.73,1.73,1.7,1.73,1.79,
1.77,1.75,1.77,1.79,1.8,1.83,1.79,1.78,1.83,1.84,1.82,1.82,1.85,1.89,1.84,1.85,1.87,1.89,1.86,1.84,1.89,1.92,1.88,1.88,1.91];
const e2_550 = [1.3,0.98,0.72,0.58,0.46,0.42,0.34,0.33,0.28,0.3,0.25,0.28,0.22,0.26,0.21,0.24,0.2,0.22,0.18,0.2,0.17,0.19,0.15,0.17,0.14,0.16,0.13,0.14,
0.13,0.11,0.14,0.15,0.19,0.22,0.27,0.3,0.36,0.39,0.45,0.48,0.54,0.57,0.63,0.66,0.72,0.75,0.8,0.83,0.89,0.92,0.98,1.0,1.06,1.08,1.13,1.15,1.2,1.21,
1.32,1.3,1.28,1.34,1.38,1.41,1.46,1.44,1.41,1.5,1.56,1.52,1.53,1.57,1.61,1.58,1.56,1.63,1.7,1.64,1.63,1.68,1.68,1.68,1.75,
1.72,1.68,1.72,1.76,1.76,1.73,1.76,1.84,1.79,1.78,1.79,1.84,1.82,1.76,1.81,1.87,1.84,1.81,1.84,1.9,1.87,1.84,1.86,1.89,1.88];
const e2_575 = [1.55,1.15,0.88,0.66,0.56,0.46,0.42,0.36,0.35,0.31,0.31,0.28,0.28,0.25,0.26,0.22,0.24,0.2,0.22,0.18,0.2,0.16,0.18,0.14,0.16,0.13,0.15,0.12,
0.12,0.1,0.13,0.14,0.18,0.2,0.25,0.28,0.34,0.37,0.42,0.45,0.5,0.53,0.58,0.61,0.66,0.69,0.73,0.76,0.8,0.83,0.88,0.9,0.95,0.97,1.01,1.03,1.08,1.09,
1.1,1.18,1.25,1.22,1.22,1.3,1.33,1.33,1.43,1.4,1.38,1.42,1.45,1.48,1.53,1.49,1.46,1.54,1.58,1.55,1.56,1.6,1.65,1.6,1.59,
1.64,1.7,1.64,1.62,1.68,1.7,1.68,1.67,1.72,1.77,1.72,1.74,1.76,1.71,1.75,1.83,1.79,1.77,1.78,1.83,1.81,1.76,1.8,1.85,1.83];
const e2_600 = [1.85,1.42,1.05,0.82,0.64,0.58,0.46,0.46,0.38,0.39,0.32,0.34,0.3,0.3,0.27,0.26,0.25,0.22,0.22,0.19,0.2,0.16,0.18,0.14,0.16,0.13,0.15,0.12,
0.11,0.09,0.12,0.12,0.16,0.17,0.22,0.24,0.29,0.31,0.36,0.38,0.43,0.45,0.5,0.52,0.57,0.59,0.63,0.65,0.7,0.71,0.76,0.77,0.82,0.83,0.88,0.89,0.95,0.96,
1.06,1.05,1.05,1.1,1.15,1.16,1.24,1.19,1.18,1.26,1.27,1.28,1.34,1.34,1.29,1.36,1.43,1.41,1.4,1.42,1.48,1.47,1.43,1.48,1.57,
1.53,1.5,1.53,1.55,1.57,1.62,1.57,1.55,1.61,1.63,1.61,1.6,1.65,1.71,1.65,1.65,1.68,1.71,1.67,1.63,1.71,1.75,1.7,1.69,1.73];
const e2_625 = [2.1,1.68,1.25,0.98,0.75,0.66,0.54,0.5,0.43,0.42,0.36,0.37,0.31,0.33,0.27,0.29,0.24,0.26,0.21,0.23,0.18,0.2,0.16,0.17,0.14,0.15,0.12,0.13,
0.1,0.08,0.1,0.1,0.13,0.13,0.17,0.18,0.23,0.24,0.29,0.3,0.35,0.36,0.41,0.42,0.47,0.48,0.53,0.54,0.59,0.6,0.65,0.67,0.72,0.73,0.78,0.79,0.84,0.85,
0.95,0.93,0.91,0.98,1.01,1.04,1.09,1.07,1.05,1.14,1.2,1.16,1.18,1.22,1.26,1.24,1.22,1.29,1.36,1.31,1.31,1.36,1.37,1.37,1.44,
1.41,1.37,1.42,1.46,1.46,1.43,1.46,1.55,1.51,1.5,1.51,1.56,1.55,1.49,1.55,1.62,1.59,1.56,1.59,1.66,1.63,1.6,1.62,1.66,1.66];
const e2_650 = [2.45,1.9,1.45,1.15,0.88,0.76,0.6,0.56,0.46,0.46,0.38,0.4,0.32,0.34,0.27,0.29,0.22,0.25,0.18,0.21,0.15,0.17,0.12,0.14,0.1,0.12,0.08,0.1,
0.1,0.07,0.09,0.06,0.1,0.08,0.12,0.1,0.15,0.14,0.2,0.21,0.26,0.27,0.32,0.34,0.39,0.4,0.45,0.46,0.51,0.52,0.57,0.58,0.63,0.64,0.69,0.7,0.74,0.75,
0.76,0.83,0.9,0.87,0.86,0.93,0.96,0.96,1.05,1.02,1.0,1.04,1.07,1.1,1.16,1.12,1.09,1.17,1.21,1.19,1.2,1.24,1.29,1.25,1.25,
1.3,1.36,1.3,1.28,1.35,1.37,1.35,1.35,1.4,1.45,1.4,1.42,1.44,1.4,1.45,1.53,1.49,1.48,1.49,1.54,1.53,1.49,1.53,1.58,1.57];
const e2_675 = [2.75,2.15,1.65,1.3,1.02,0.86,0.68,0.62,0.5,0.49,0.4,0.42,0.33,0.35,0.27,0.28,0.21,0.23,0.16,0.18,0.12,0.14,0.09,0.11,0.07,0.09,0.05,0.08,
0.08,0.05,0.08,0.04,0.08,0.06,0.1,0.08,0.13,0.12,0.17,0.18,0.23,0.24,0.29,0.3,0.35,0.36,0.41,0.42,0.47,0.48,0.53,0.54,0.59,0.6,0.65,0.66,0.71,0.71,
0.8,0.79,0.78,0.82,0.88,0.9,0.97,0.92,0.91,0.99,1.0,1.0,1.07,1.07,1.02,1.08,1.16,1.14,1.13,1.15,1.21,1.21,1.17,1.21,1.3,
1.26,1.23,1.25,1.28,1.3,1.34,1.29,1.27,1.34,1.35,1.33,1.33,1.38,1.44,1.37,1.38,1.41,1.44,1.4,1.36,1.44,1.48,1.43,1.42,1.46];
const e2_700 = [2.95,2.35,1.85,1.48,1.15,0.96,0.76,0.68,0.55,0.53,0.43,0.44,0.35,0.36,0.28,0.28,0.2,0.22,0.15,0.16,0.1,0.12,0.07,0.09,0.05,0.07,0.03,0.06,
0.06,0.03,0.06,0.02,0.07,0.04,0.08,0.06,0.11,0.1,0.15,0.16,0.21,0.22,0.28,0.29,0.35,0.36,0.42,0.43,0.49,0.5,0.56,0.57,0.62,0.63,0.68,0.69,0.74,0.75,
0.86,0.84,0.81,0.87,0.92,0.96,1.0,0.98,0.96,1.05,1.1,1.05,1.06,1.1,1.12,1.08,1.07,1.15,1.2,1.13,1.13,1.19,1.18,1.16,1.23,
1.2,1.13,1.15,1.19,1.2,1.15,1.16,1.24,1.19,1.16,1.15,1.21,1.2,1.13,1.17,1.24,1.22,1.16,1.16,1.23,1.21,1.15,1.15,1.19,1.19];

const eps1Series = [e1_77,e1_100,e1_125,e1_150,e1_175,e1_200,e1_225,e1_250,e1_275,e1_300,e1_325,e1_350,e1_375,e1_400,e1_425,e1_450,e1_475,e1_500,e1_525,e1_550,e1_575,e1_600,e1_625,e1_650,e1_675,e1_700];
const eps2Series = [e2_77,e2_100,e2_125,e2_150,e2_175,e2_200,e2_225,e2_250,e2_275,e2_300,e2_325,e2_350,e2_375,e2_400,e2_425,e2_450,e2_475,e2_500,e2_525,e2_550,e2_575,e2_600,e2_625,e2_650,e2_675,e2_700];

const bad = [];
eps1Series.forEach((a,i)=>{ if(a.length!==energy.length) bad.push('e1_'+temperatures[i]+':'+a.length); });
eps2Series.forEach((a,i)=>{ if(a.length!==energy.length) bad.push('e2_'+temperatures[i]+':'+a.length); });
if (bad.length) throw new Error('length mismatch (energy '+energy.length+') '+bad.join(' '));

const svg = d3.select('#chart');
const L = 70, R = 566, T = 12, M = 422, B = 831;
const x = d3.scaleLinear().domain([0, 0.5]).range([L, R]);
const y1 = d3.scaleLinear().domain([6, 18]).range([M, T]);
const y2 = d3.scaleLinear().domain([0, 2]).range([B, M]);

const defs = svg.append('defs');
defs.append('clipPath').attr('id','clipTop').append('rect').attr('x',L).attr('y',T).attr('width',R-L).attr('height',M-T);
defs.append('clipPath').attr('id','clipBot').append('rect').attr('x',L).attr('y',M).attr('width',R-L).attr('height',B-M);

function drawPanel(seriesList, yScale, clipId) {
  const g = svg.append('g').attr('clip-path', `url(#${clipId})`);
  seriesList.forEach((vals, i) => {
    g.append('g').selectAll('circle')
      .data(vals.map((v, j) => ({e: energy[j], v})))
      .join('circle')
      .attr('cx', d => x(d.e)).attr('cy', d => yScale(d.v))
      .attr('r', 2).attr('fill', seriesColors[i]);
  });
}
drawPanel(eps1Series, y1, 'clipTop');
drawPanel(eps2Series, y2, 'clipBot');

function styleAxis(g, fs) {
  g.selectAll('path.domain').attr('stroke', '#000').attr('stroke-width', 1.3);
  g.selectAll('line').attr('stroke', '#000').attr('stroke-width', 1.2);
  g.selectAll('text').attr('font-size', fs).attr('font-family', '"Liberation Sans", Arial, sans-serif').attr('fill', '#000');
}
function addAxis(axis, tx, ty) {
  const g = svg.append('g').attr('transform', `translate(${tx},${ty})`).call(axis);
  styleAxis(g, 16);
  return g;
}
const noLab = () => '';
// top panel frame
addAxis(d3.axisLeft(y1).tickValues(eps1Ticks).tickSize(-7).tickSizeOuter(0).tickPadding(8).tickFormat(d3.format('d')), L, 0);
addAxis(d3.axisLeft(y1).tickValues(eps1MinorTicks).tickSize(-4).tickSizeOuter(0).tickFormat(noLab), L, 0);
addAxis(d3.axisRight(y1).tickValues(eps1Ticks).tickSize(-7).tickSizeOuter(0).tickFormat(noLab), R, 0);
addAxis(d3.axisRight(y1).tickValues(eps1MinorTicks).tickSize(-4).tickSizeOuter(0).tickFormat(noLab), R, 0);
addAxis(d3.axisTop(x).tickValues(xTicks).tickSize(-7).tickSizeOuter(0).tickFormat(noLab), 0, T);
addAxis(d3.axisTop(x).tickValues(xMinorTicks).tickSize(-4).tickSizeOuter(0).tickFormat(noLab), 0, T);
addAxis(d3.axisBottom(x).tickValues(xTicks).tickSize(-7).tickSizeOuter(0).tickFormat(noLab), 0, M);
addAxis(d3.axisBottom(x).tickValues(xMinorTicks).tickSize(-4).tickSizeOuter(0).tickFormat(noLab), 0, M);
// bottom panel frame
addAxis(d3.axisLeft(y2).tickValues(eps2Ticks).tickSize(-7).tickSizeOuter(0).tickPadding(8).tickFormat(d3.format('.1f')), L, 0);
addAxis(d3.axisLeft(y2).tickValues(eps2MinorTicks).tickSize(-4).tickSizeOuter(0).tickFormat(noLab), L, 0);
addAxis(d3.axisRight(y2).tickValues(eps2Ticks).tickSize(-7).tickSizeOuter(0).tickFormat(noLab), R, 0);
addAxis(d3.axisRight(y2).tickValues(eps2MinorTicks).tickSize(-4).tickSizeOuter(0).tickFormat(noLab), R, 0);
addAxis(d3.axisTop(x).tickValues(xTicks).tickSize(-7).tickSizeOuter(0).tickFormat(noLab), 0, M);
addAxis(d3.axisTop(x).tickValues(xMinorTicks).tickSize(-4).tickSizeOuter(0).tickFormat(noLab), 0, M);
addAxis(d3.axisBottom(x).tickValues(xTicks).tickSize(-7).tickSizeOuter(0).tickPadding(11).tickFormat(d3.format('.1f')), 0, B);
addAxis(d3.axisBottom(x).tickValues(xMinorTicks).tickSize(-4).tickSizeOuter(0).tickFormat(noLab), 0, B);

// axis titles
svg.append('text').attr('x', (L + R) / 2).attr('y', 886).attr('text-anchor', 'middle')
  .attr('font-size', 19).attr('fill', '#000').text('Photon Energy (eV)');
function yTitle(cx, cy, sub) {
  const t = svg.append('text').attr('transform', `translate(${cx},${cy}) rotate(-90)`)
    .attr('text-anchor', 'middle').attr('font-size', 18).attr('fill', '#000');
  t.append('tspan').text('<ε');
  t.append('tspan').attr('dy', 4).attr('font-size', 13).text(sub);
  t.append('tspan').attr('dy', -4).text('>');
}
yTitle(28, 214, '1');
yTitle(28, 622, '2');

// legend
const lg = svg.append('g');
lg.append('rect').attr('x', 574).attr('y', 70).attr('width', 80).attr('height', 719)
  .attr('fill', '#fff').attr('stroke', '#444').attr('stroke-width', 1.3);
const legY = d3.scalePoint().domain(temperatures).range([87, 773]);
temperatures.forEach((t, i) => {
  lg.append('circle').attr('cx', 593).attr('cy', legY(t)).attr('r', 2.2).attr('fill', seriesColors[i]);
  lg.append('text').attr('x', 614).attr('y', legY(t) + 7.5).attr('font-size', 21).attr('fill', '#000').text(String(t));
});
</script>
</body></html>
